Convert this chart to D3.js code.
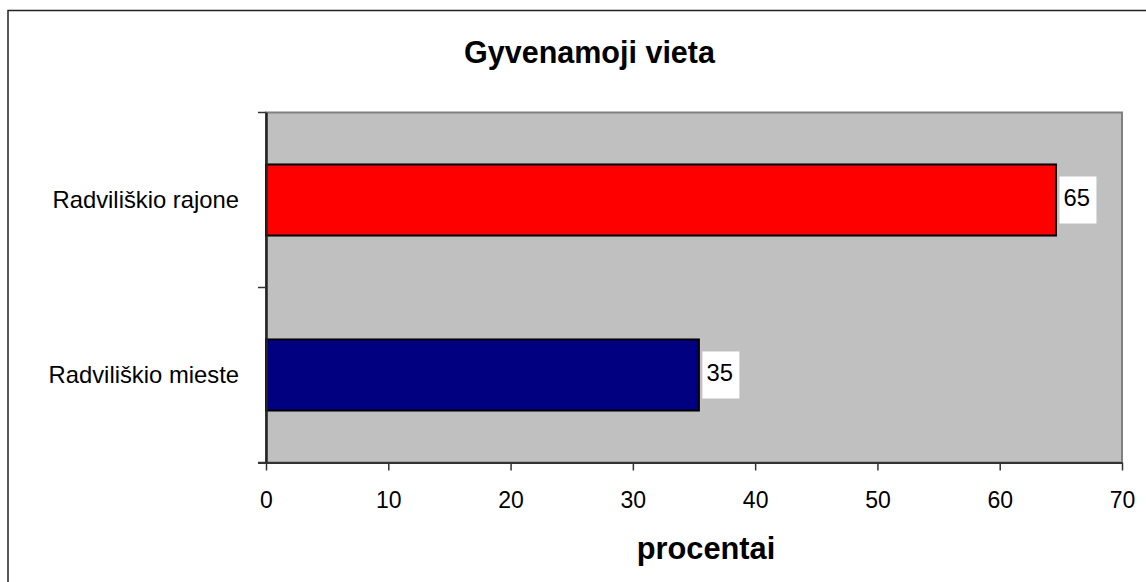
<!DOCTYPE html>
<html>
<head>
<meta charset="utf-8">
<script src="https://cdn.jsdelivr.net/npm/d3@7"></script>
<style>
  html, body { margin: 0; padding: 0; background: #fff; }
  svg { display: block; font-family: Arial, "Liberation Sans", sans-serif; }
</style>
</head>
<body>
<svg id="chart" width="1146" height="582"></svg>
<script>
const categories = ["Radviliškio rajone", "Radviliškio mieste"];
const values = [64.6, 35.4];
const valueLabels = ["65", "35"];
const barColors = ["#FF0000", "#000080"];
const xTicks = [0, 10, 20, 30, 40, 50, 60, 70];
const titleText = "Gyvenamoji vieta";
const xAxisTitle = "procentai";

const svg = d3.select("#chart");
const W = 1146, H = 582;
const plot = { left: 266, right: 1122, top: 112.5, bottom: 462.5 };
const FONT = "Arial, 'Liberation Sans', sans-serif";

// outer chart border (top and left visible)
svg.append("rect").attr("x", 8).attr("y", 10.5).attr("width", W + 20).attr("height", H + 20)
  .attr("fill", "#fff").attr("stroke", "#222").attr("stroke-width", 1.5);

const x = d3.scaleLinear().domain([0, 70]).range([plot.left, plot.right]);
const y = d3.scaleBand().domain(categories).range([plot.top, plot.bottom])
  .paddingInner(0.594).paddingOuter(0.297);

// plot area
svg.append("rect").attr("x", plot.left).attr("y", plot.top)
  .attr("width", plot.right - plot.left).attr("height", plot.bottom - plot.top)
  .attr("fill", "#C0C0C0").attr("stroke", "#808080").attr("stroke-width", 2);

// bars
svg.selectAll("rect.bar").data(categories).enter().append("rect")
  .attr("class", "bar")
  .attr("x", x(0))
  .attr("y", d => y(d))
  .attr("width", (d, i) => x(values[i]) - x(0))
  .attr("height", y.bandwidth())
  .attr("fill", (d, i) => barColors[i])
  .attr("stroke", "#000").attr("stroke-width", 2);

// value labels with white boxes
categories.forEach((c, i) => {
  const bx = x(values[i]) + 3.5;
  const cy = y(c) + y.bandwidth() / 2;
  svg.append("rect").attr("x", bx).attr("y", cy - 23.5).attr("width", 37).attr("height", 47)
    .attr("fill", "#fff");
  svg.append("text").attr("x", bx + 4).attr("y", cy + 5.5)
    .attr("font-size", 23.8).attr("font-family", FONT).attr("fill", "#000").text(valueLabels[i]);
});

// x axis
const xAxis = svg.append("g").attr("transform", `translate(0,${plot.bottom})`)
  .call(d3.axisBottom(x).tickValues(xTicks).tickSize(8).tickPadding(21).tickFormat(d3.format("d")));
xAxis.select(".domain").attr("stroke", "#333").attr("stroke-width", 2).attr("d", `M${plot.left - 8},0.5H${plot.right}`);
xAxis.selectAll(".tick line").attr("stroke", "#333").attr("stroke-width", 1.5);
xAxis.selectAll(".tick text").attr("font-size", 23).attr("font-family", FONT).attr("fill", "#000");

// y axis (category labels)
const yAxis = svg.append("g").attr("transform", `translate(${plot.left},0)`)
  .call(d3.axisLeft(y).tickSize(0).tickPadding(27));
yAxis.select(".domain").attr("stroke", "#222").attr("stroke-width", 2.5).attr("d", `M0.5,${plot.top}V${plot.bottom}`);
yAxis.selectAll(".tick text").attr("font-size", 23.8).attr("font-family", FONT).attr("fill", "#000");

// y boundary ticks
const bounds = d3.scaleLinear().domain([0, categories.length]).range([plot.top, plot.bottom]);
svg.append("g").selectAll("line").data(d3.range(categories.length + 1)).enter().append("line")
  .attr("x1", plot.left - 8).attr("x2", plot.left)
  .attr("y1", d => bounds(d)).attr("y2", d => bounds(d))
  .attr("stroke", "#333").attr("stroke-width", 1.5);

// titles
svg.append("text").attr("x", 589.5).attr("y", 63).attr("text-anchor", "middle")
  .attr("font-size", 30.5).attr("font-weight", "bold").attr("font-family", FONT).attr("fill", "#000").text(titleText);
svg.append("text").attr("x", 706).attr("y", 559).attr("text-anchor", "middle")
  .attr("font-size", 30.8).attr("font-weight", "bold").attr("font-family", FONT).attr("fill", "#000").text(xAxisTitle);
</script>
</body>
</html>
